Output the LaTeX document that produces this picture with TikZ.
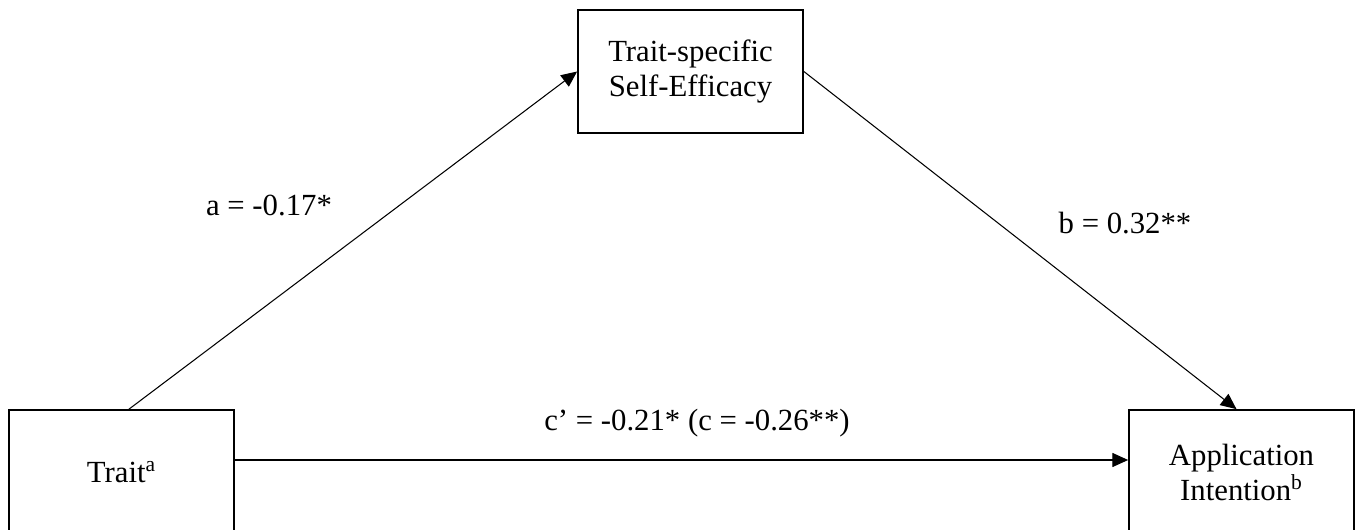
\documentclass[tikz,border=0pt]{standalone}
\usepackage{fontspec}
\setmainfont{Liberation Serif}
\usetikzlibrary{arrows.meta,positioning}
\tikzset{
  var/.style={draw=black,line width=1pt,minimum width=4.5cm,minimum height=2.5cm,align=center,inner sep=0pt},
  link/.style={-{Triangle[length=9pt,width=8pt]},draw=black,line width=0.6pt},
  coef/.style={inner sep=1pt}
}
\begin{document}
\begin{tikzpicture}[x=0.02cm,y=-0.02cm,font=\fontsize{17.5}{20}\selectfont]
  \useasboundingbox (0,0) rectangle (1356,530);
  \clip (0,0) rectangle (1356,530);
  % variables
  \node[var,minimum height=2.46cm] (se) at (690.5,71.5) {Trait-specific\\Self-Efficacy};
  \node[var] (trait) at (121.5,472.5) {Trait\textsuperscript{a}};
  \node[var] (intent) at (1241.5,472.5) {Application\\Intention\textsuperscript{b}};
  % paths
  \draw[link] ([xshift=0.15cm]trait.north) -- (se.west);
  \draw[link] (se.east) -- ([xshift=-0.1cm]intent.north);
  \draw[link] ([yshift=0.25cm]trait.east) -- ([yshift=0.25cm]intent.west);
  % coefficients
  \node[coef] (lab a) at (269,205) {a = -0.17*};
  \node[coef] (lab b) at (1125,223) {b = 0.32**};
  \node[coef] (lab c) at (697,423) {c’ = -0.21* (c = -0.26**)};
\end{tikzpicture}
\end{document}
